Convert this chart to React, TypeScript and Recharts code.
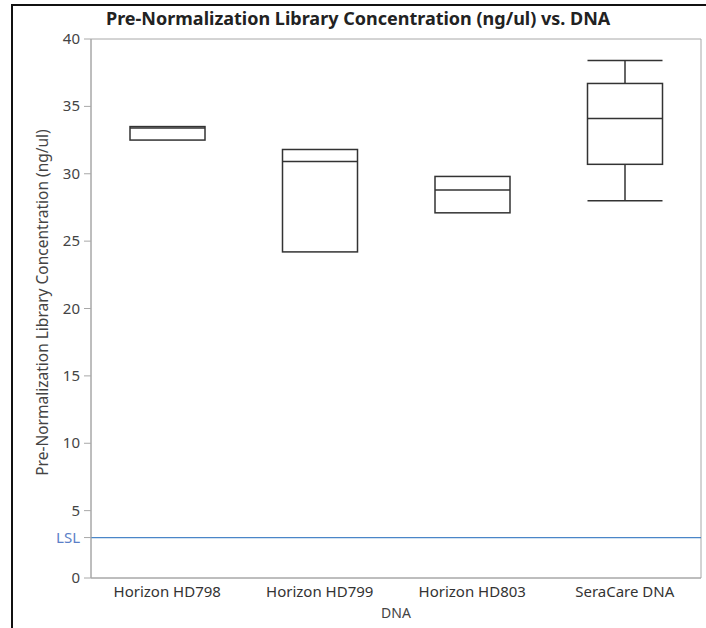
import { ComposedChart, Bar, XAxis, YAxis, ReferenceLine, ReferenceArea } from "recharts";

const categories = ["Horizon HD798", "Horizon HD799", "Horizon HD803", "SeraCare DNA"];
const mins = [32.5, 24.2, 27.1, 28.0];
const q1s = [32.5, 24.2, 27.1, 30.7];
const medians = [33.4, 30.9, 28.8, 34.1];
const q3s = [33.5, 31.8, 29.8, 36.7];
const maxs = [33.5, 31.8, 29.8, 38.4];
const yTicks = [0, 3, 5, 10, 15, 20, 25, 30, 35, 40];
const lsl = 3;

const data = categories.map((name, i) => ({
  name,
  min: mins[i],
  q1: q1s[i],
  median: medians[i],
  q3: q3s[i],
  max: maxs[i],
  range: [mins[i], maxs[i]],
}));

const FONT = "'Noto Sans', 'Open Sans', sans-serif";
const AXIS = "#a8a8a8";
const INK = "#333";

function BoxShape(props: any) {
  const { x, y, width, height, payload } = props;
  const span = payload.max - payload.min;
  const k = span > 0 ? height / span : 0;
  const py = (v: number) => y + (payload.max - v) * k;
  const cx = x + width / 2;
  const s = { stroke: INK, strokeWidth: 1.5, fill: "none" };
  return (
    <g>
      {payload.max > payload.q3 && (
        <>
          <line x1={x} x2={x + width} y1={py(payload.max)} y2={py(payload.max)} {...s} />
          <line x1={cx} x2={cx} y1={py(payload.max)} y2={py(payload.q3)} {...s} />
        </>
      )}
      {payload.min < payload.q1 && (
        <>
          <line x1={x} x2={x + width} y1={py(payload.min)} y2={py(payload.min)} {...s} />
          <line x1={cx} x2={cx} y1={py(payload.min)} y2={py(payload.q1)} {...s} />
        </>
      )}
      <rect x={x} y={py(payload.q3)} width={width} height={py(payload.q1) - py(payload.q3)} {...s} />
      <line x1={x} x2={x + width} y1={py(payload.median)} y2={py(payload.median)} {...s} />
    </g>
  );
}

function YTick(props: any) {
  const { x, y, payload } = props;
  const isLsl = payload.value === lsl;
  return (
    <text x={x - 2} y={y} dy={5} textAnchor="end" fontFamily={FONT} fontSize={15} fill={isLsl ? "#5b7fc7" : "#444"}>
      {isLsl ? "LSL" : payload.value}
    </text>
  );
}

function YLabel(props: any) {
  const vb = props.viewBox;
  const cx = 44;
  const cy = vb.y + vb.height / 2 - 6;
  return (
    <text x={cx} y={cy} transform={`rotate(-90 ${cx} ${cy})`} textAnchor="middle" dominantBaseline="middle"
      fontFamily={FONT} fontSize={15.5} fill="#444">
      Pre-Normalization Library Concentration (ng/ul)
    </text>
  );
}

export default function App() {
  return (
    <div style={{ position: "absolute", left: 0, top: 0, width: 706, height: 628, background: "#fff", overflow: "hidden" }}>
      <div style={{ position: "absolute", left: 11, top: 4, right: 0, bottom: 0, borderLeft: "2px solid #111", borderTop: "2px solid #111" }} />
      <div style={{ position: "absolute", left: 106, top: 6, fontFamily: FONT, fontWeight: 700, fontSize: 18, color: "#222", whiteSpace: "nowrap" }}>
        Pre-Normalization Library Concentration (ng/ul) vs. DNA
      </div>
      <div style={{ position: "absolute", left: 0, top: 0 }}>
        <ComposedChart width={706} height={628} data={data} margin={{ top: 39, right: 5, left: 0, bottom: 0 }}>
          <XAxis
            dataKey="name"
            height={50}
            tickLine={false}
            axisLine={{ stroke: AXIS }}
            tick={{ fontFamily: FONT, fontSize: 15, fill: "#333" }}
            label={{ value: "DNA", position: "insideBottom", offset: 10, fontFamily: FONT, fontSize: 14, fill: "#444" }}
          />
          <YAxis
            type="number"
            domain={[0, 40]}
            ticks={yTicks}
            interval={0}
            width={91}
            tickSize={7}
            tickLine={{ stroke: AXIS }}
            axisLine={{ stroke: AXIS }}
            tick={<YTick />}
            label={{ content: YLabel }}
          />
          <ReferenceArea y1={0} y2={40} fill="none" stroke={AXIS} strokeWidth={1} />
          <ReferenceLine y={lsl} stroke="#4a86c8" strokeWidth={1.2} />
          <Bar dataKey="range" barSize={75} shape={BoxShape} isAnimationActive={false} />
        </ComposedChart>
      </div>
    </div>
  );
}
